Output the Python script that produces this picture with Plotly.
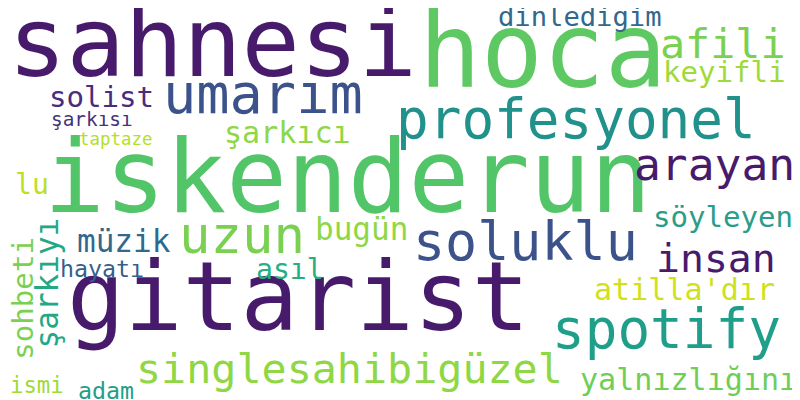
import plotly.graph_objects as go

words = ["sahnesi", "hoca", "iskenderun", "gitarist", "umarım", "profesyonel", "afili",
         "keyifli", "dinlediğim", "solist", "şarkısı", "taptaze", "şarkıcı", "arayan", "lu",
         "uzun", "soluklu", "söyleyen", "bugün", "müzik", "insan", "asıl", "hayatı",
         "sohbeti", "şarkıyı", "atilla'dır", "spotify", "singlesahibigüzel", "yalnızlığını",
         "ismi", "adam"]
pos_x = [216, 548, 352, 302, 262, 575, 720, 720, 575, 97, 86, 110, 283, 712, 27,
         240, 524, 719, 357, 120, 713, 285, 97, 18, 43, 680, 665, 347, 684, 32, 101]
pos_y = [45, 55, 180, 300, 92, 118, 40, 67, 12, 92, 114, 133, 128, 162, 180,
         232, 240, 212, 225, 237, 255, 265, 263, 290, 275, 285, 328, 365, 375, 380, 385]
sizes = [100, 106, 104, 99, 57, 56, 43, 30, 28, 30, 20, 18, 31, 46, 29,
         54, 55, 30, 32, 32, 41, 29, 24, 30, 32, 31, 56, 43, 31, 23, 24]
angles = [0] * 23 + [-90, -90] + [0] * 6
colors = ["#481a6c", "#5ec962", "#52c569", "#481a6c", "#3b528b", "#21918c", "#7ad151",
          "#a0da39", "#31688e", "#472d7b", "#46327e", "#b5de2b", "#8fd744", "#481a6c", "#bddf26",
          "#7ad151", "#3b528b", "#2a9d8a", "#8fd744", "#31688e", "#481a6c", "#29af7f", "#355f8d",
          "#7ad151", "#22a884", "#d0e11c", "#1f9e89", "#8fd744", "#6ece58", "#9fda3a", "#1f9e89"]

fig = go.Figure()
fig.add_trace(go.Scatter(x=[0, 800], y=[0, 400], mode="markers",
                         marker_opacity=0, showlegend=False, hoverinfo="skip"))
for w, x, y, s, a, c in zip(words, pos_x, pos_y, sizes, angles, colors):
    fs = s * 0.97
    if a == 0:
        xs, ys = -0.12 * s, 0.11 * s
    else:
        xs, ys = -0.11 * s, 0
    fig.add_annotation(x=x, y=y, text=w, showarrow=False, textangle=a,
                       xshift=xs, yshift=ys, borderpad=0,
                       font=dict(family="DejaVu Sans Mono", size=fs, color=c))

fig.update_layout(width=800, height=400, margin=dict(l=0, r=0, t=0, b=0),
                  plot_bgcolor="white", paper_bgcolor="white",
                  xaxis=dict(range=[0, 800], visible=False),
                  yaxis=dict(range=[400, 0], visible=False))
fig.write_html("out.html")
